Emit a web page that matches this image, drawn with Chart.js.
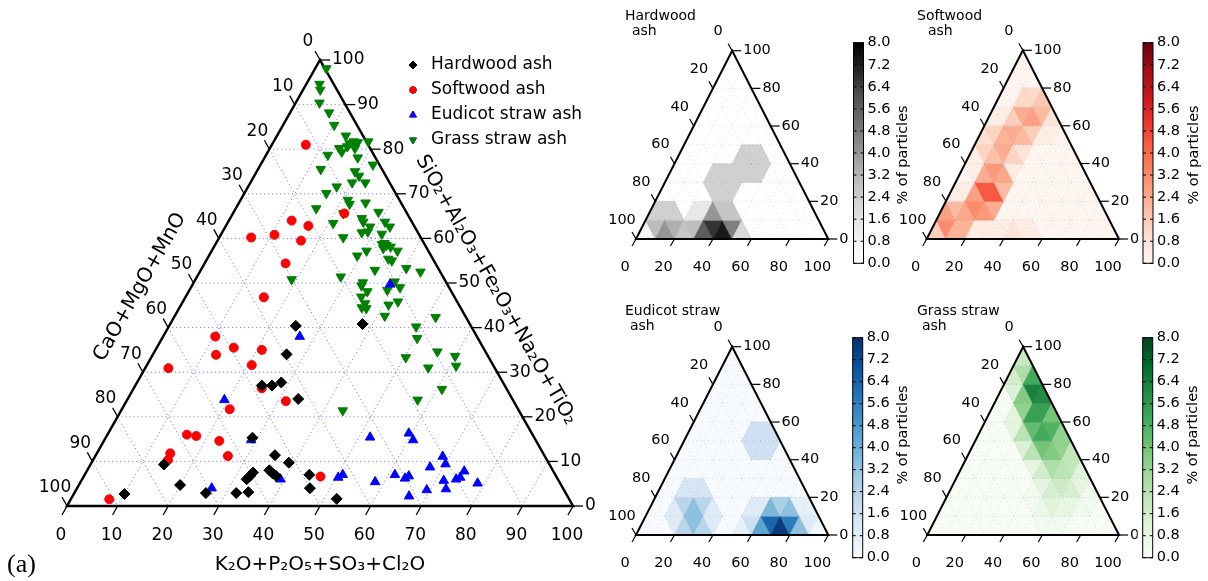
<!DOCTYPE html>
<html>
<head>
<meta charset="utf-8">
<title>Ash composition ternary diagrams</title>
<script src="https://cdn.jsdelivr.net/npm/chart.js@4.4.1/dist/chart.umd.min.js"></script>
<style>
  html, body { margin: 0; padding: 0; background: #fff; }
  #wrap { position: relative; width: 1208px; height: 581px; overflow: hidden; background: #fff; }
  #wrap canvas { position: absolute; }
</style>
</head>
<body>
<div id="wrap">
  <canvas id="main" width="600" height="581" style="left:0;top:0"></canvas>
  <canvas id="hw" width="320" height="292" style="left:600px;top:0"></canvas>
  <canvas id="sw" width="318" height="292" style="left:890px;top:0"></canvas>
  <canvas id="eu" width="320" height="289" style="left:600px;top:292px"></canvas>
  <canvas id="gr" width="318" height="289" style="left:890px;top:292px"></canvas>
</div>
<script>
/* -------------------- DATA -------------------- */
// K = K2O+P2O5+SO3+Cl2O (bottom axis), S = SiO2+Al2O3+Fe2O3+Na2O+TiO2 (right axis)
// CaO+MgO+MnO is the rest (100 - K - S)
const hardwoodK = [25, 38, 26.4, 25, 27, 28.5, 33.7, 29, 35.4, 39, 14.5, 33, 32.8, 32.5, 36, 37, 38, 20, 10, 26, 32, 34.3, 44.4, 46, 52.5];
const hardwoodS = [40.4, 40.8, 34, 27, 27, 27.7, 24, 15.3, 11.4, 9.7, 9.3, 7.5, 6.7, 6, 8, 7.3, 6.7, 4.7, 2.7, 2.9, 2.9, 3.1, 7, 4, 1.6];

const softwoodK = [6.7, 22, 12.4, 16.3, 6.3, 10.6, 16.5, 16, 15.5, 10.3, 12.5, 15.2, 21, 20.7, 4.6, 25.3, 31.5, 21.3, 15.7, 17.7, 22.8, 14.5, 14.8, 26.2, 7.6, 46.8];
const softwoodS = [81, 65.6, 64, 62.8, 60.2, 60.8, 59.5, 54.4, 46.8, 38, 33.9, 35.5, 35, 31.6, 30.9, 26.4, 23.5, 21.7, 16, 15.7, 14.6, 11.8, 10.3, 11.2, 1.5, 6.6];

const eudicotK = [39, 27, 19.2, 29, 26.6, 39.2, 50.4, 51, 52.2, 58.2, 61.3, 63.7, 64.2, 59.4, 61, 66.5, 69.3, 67.4, 68.7, 70.1, 71.6, 73, 73.9, 74.5, 74.6, 78.6];
const eudicotS = [49.7, 38, 23.8, 14.8, 4, 6, 6.4, 7, 15.4, 5.4, 7, 6.2, 6.7, 16.3, 14.8, 2.2, 3.6, 8.7, 11.1, 9.4, 5.7, 3.8, 6, 6.4, 7.8, 5.1];

const grassK = [2.2, 2.6, 3.4, 4.7, 7.7, 10.1, 13.6, 15.2, 15.8, 16.7, 15.1, 16.8, 13.7, 14.6, 18.7, 12.2, 18.4, 12.4, 19.4, 20.7,
  22.2, 22.7, 20.1, 17.5, 16.2, 21.2, 22, 25, 15.9, 28.6, 21.8, 26, 26.7, 31, 32.5, 20.9, 28.6, 28.7, 27.6, 31.7,
  24.5, 32.9, 33.3, 33.9, 34.9, 33.6, 36.7, 30.6, 29.3, 35.8, 36.7, 40.4, 34.4, 43.6, 28.4, 19, 33.4, 33.5, 39.6, 41.3,
  35.3, 34.7, 39.1, 42.5, 36.2, 36, 37, 41, 41.5, 51.7, 48.9, 50.4, 55.9, 50.3, 55.9, 59.9, 61.2, 43.8, 57.4, 61];
const grassS = [98.1, 94.6, 93.3, 90.4, 88.2, 85.4, 83, 81.3, 81.7, 81.5, 80.6, 80.2, 80.2, 79.4, 81.7, 78.7, 78.1, 75.5, 75, 74,
  76.5, 72.5, 72.5, 71.6, 70.1, 68.6, 67.7, 68, 66.7, 65.9, 65.6, 64.5, 63.7, 63.7, 62.6, 63.4, 62.6, 61.5, 61.3, 61,
  60.2, 58.7, 58.9, 58.5, 58.1, 57.8, 57.2, 57.2, 56.1, 55.4, 55, 53.3, 52.9, 52.5, 51.4, 50.8, 50.1, 49.4, 50.3, 49,
  48.1, 46.9, 48.4, 45.8, 45.4, 44.5, 44.3, 45.1, 42.6, 42.3, 40.2, 37.6, 34.6, 33.3, 31, 33.6, 31.4, 21.4, 23.8, 26.2];

const seriesNames = ['Hardwood ash', 'Softwood ash', 'Eudicot straw ash', 'Grass straw ash'];
const mainTicks = [0, 10, 20, 30, 40, 50, 60, 70, 80, 90, 100];
const heatTicks = [0, 20, 40, 60, 80, 100];
const colorbarTicks = [0.0, 0.8, 1.6, 2.4, 3.2, 4.0, 4.8, 5.6, 6.4, 7.2, 8.0];

// heatmaps: % of particles at grid points [K, S, value], grid step 10
const hardwoodHeat = [[10, 10, 7], [30, 30, 7], [40, 40, 7], [10, 0, 2], [20, 0, 3], [30, 0, 5], [40, 0, 8],
  [50, 0, 6], [30, 10, 4], [40, 10, 8]];
const softwoodHeat = [[0, 10, 3], [10, 0, 1.5], [10, 10, 5], [20, 10, 1.5], [10, 20, 1], [20, 20, 7], [20, 30, 6],
  [10, 40, 1], [20, 40, 1.5], [10, 50, 3], [20, 50, 2.5], [10, 60, 1], [20, 60, 3.5], [30, 60, 1], [20, 70, 3.5],
  [30, 70, 1.5], [40, 0, 1.2], [50, 0, 1.2]];
const eudicotHeat = [[40, 50, 5], [20, 20, 4], [20, 10, 3], [30, 10, 3], [30, 0, 4], [60, 0, 2], [70, 0, 8],
  [80, 0, 7], [70, 10, 8], [60, 10, 3], [80, 10, 2], [90, 0, 1]];
const grassHeat = [[0, 100, 2], [0, 90, 1], [10, 90, 3], [10, 80, 4], [20, 80, 8], [20, 70, 7], [30, 70, 3],
  [30, 60, 6], [20, 60, 3], [40, 60, 3], [30, 50, 4], [40, 50, 5], [50, 50, 2], [40, 40, 3], [50, 40, 3],
  [60, 40, 1.5], [50, 30, 2], [60, 30, 2], [50, 20, 1], [60, 20, 1.5], [70, 20, 1], [60, 10, 1]];

/* -------------------- HELPERS -------------------- */
const FONT = '"DejaVu Sans", "Liberation Sans", sans-serif';

const GREYS = ['#ffffff', '#f0f0f0', '#d9d9d9', '#bdbdbd', '#969696', '#737373', '#525252', '#252525', '#000000'];
const REDS = ['#fff5f0', '#fee0d2', '#fcbba1', '#fc9272', '#fb6a4a', '#ef3b2c', '#cb181d', '#a50f15', '#67000d'];
const BLUES = ['#f7fbff', '#deebf7', '#c6dbef', '#9ecae1', '#6baed6', '#4292c6', '#2171b5', '#08519c', '#08306b'];
const GREENS = ['#f7fcf5', '#e5f5e0', '#c7e9c0', '#a1d99b', '#74c476', '#41ab5d', '#238b45', '#006d2c', '#00441b'];

function tern(k, s) {
    return { x: k + s / 2, y: s };
}

function hexToRgb(h) {
    const n = parseInt(h.slice(1), 16);
    return [(n >> 16) & 255, (n >> 8) & 255, n & 255];
}

function cmap(list, v, vmax) {
    const t = Math.max(0, Math.min(1, v / vmax)) * (list.length - 1);
    const i = Math.min(Math.floor(t), list.length - 2);
    const f = t - i;
    const a = hexToRgb(list[i]), b = hexToRgb(list[i + 1]);
    const c = a.map((va, n) => Math.round(va + (b[n] - va) * f));
    return `rgb(${c[0]},${c[1]},${c[2]})`;
}

function strokeLine(ctx, p, q) {
    ctx.beginPath();
    ctx.moveTo(p[0], p[1]);
    ctx.lineTo(q[0], q[1]);
    ctx.stroke();
}

function text(ctx, str, x, y, size, align, rot) {
    ctx.save();
    ctx.translate(x, y);
    if (rot) ctx.rotate(rot);
    ctx.font = `${size}px ${FONT}`;
    ctx.fillStyle = '#000';
    ctx.textAlign = align || 'center';
    ctx.textBaseline = 'middle';
    ctx.fillText(str, 0, 0);
    ctx.restore();
}

function baseOptions(pad) {
    return {
        responsive: false,
        animation: false,
        devicePixelRatio: 1,
        events: [],
        layout: { padding: pad },
        plugins: { legend: { display: false }, tooltip: { enabled: false } },
        scales: {
            x: { type: 'linear', min: 0, max: 100, display: false },
            y: { type: 'linear', min: 0, max: 100, display: false }
        }
    };
}

/* -------------------- MAIN TERNARY -------------------- */
const series = [
    { K: hardwoodK, S: hardwoodS, color: '#000000', style: 'rectRot', radius: 5.5, rot: 0 },
    { K: softwoodK, S: softwoodS, color: '#ff0000', style: 'circle', radius: 4.5, rot: 0 },
    { K: eudicotK, S: eudicotS, color: '#0000ff', style: 'triangle', radius: 5.5, rot: 0 },
    { K: grassK, S: grassS, color: '#008000', style: 'triangle', radius: 5.5, rot: 180 }
];

const mainFrame = {
    id: 'mainFrame',
    beforeDatasetsDraw(chart) {
        const { ctx, scales: { x, y } } = chart;
        const P = (k, s) => [x.getPixelForValue(k + s / 2), y.getPixelForValue(s)];
        ctx.save();

        // dotted grid
        ctx.strokeStyle = 'rgba(60,60,225,0.75)';
        ctx.lineWidth = 1;
        ctx.setLineDash([1, 3]);
        for (let v = 10; v < 100; v += 10) {
            strokeLine(ctx, P(0, v), P(100 - v, v));
            strokeLine(ctx, P(v, 0), P(v, 100 - v));
            strokeLine(ctx, P(0, 100 - v), P(100 - v, 0));
        }
        ctx.setLineDash([]);

        // triangle
        ctx.strokeStyle = '#000';
        ctx.lineWidth = 2.5;
        ctx.lineJoin = 'miter';
        ctx.beginPath();
        ctx.moveTo(...P(0, 0));
        ctx.lineTo(...P(100, 0));
        ctx.lineTo(...P(0, 100));
        ctx.closePath();
        ctx.stroke();

        // ticks + labels
        ctx.lineWidth = 1.3;
        mainTicks.forEach(v => {
            const b = P(v, 0);
            strokeLine(ctx, b, [b[0] - 5, b[1] + 9]);
            text(ctx, String(v), b[0] - 6, b[1] + 30, 17);

            const l = P(0, 100 - v);
            strokeLine(ctx, l, [l[0] - 5, l[1] - 9]);
            text(ctx, String(v), l[0] - 12, l[1] - 18, 17);

            const r = P(100 - v, v);
            strokeLine(ctx, r, [r[0] + 10, r[1]]);
            text(ctx, String(v), r[0] + 12, r[1], 17, 'left');
        });

        // axis titles
        const ang = Math.atan2(y.getPixelForValue(0) - y.getPixelForValue(100), x.getPixelForValue(100) - x.getPixelForValue(50));
        text(ctx, 'K\u2082O+P\u2082O\u2085+SO\u2083+Cl\u2082O', (P(0, 0)[0] + P(100, 0)[0]) / 2, 565, 20);
        text(ctx, 'CaO+MgO+MnO', 140, 287, 20, 'center', -ang);
        text(ctx, 'SiO\u2082+Al\u2082O\u2083+Fe\u2082O\u2083+Na\u2082O+TiO\u2082', 496, 290, 20, 'center', ang);

        ctx.font = '26px "Liberation Serif", "DejaVu Serif", serif';
        ctx.fillStyle = '#000';
        ctx.textAlign = 'left';
        ctx.textBaseline = 'middle';
        ctx.fillText('(a)', 7, 565);
        ctx.restore();
    },
    afterDatasetsDraw(chart) {
        const { ctx } = chart;
        ctx.save();
        chart.data.datasets.forEach((ds, i) => {
            const yy = 65 + i * 25;
            Chart.helpers.drawPoint(ctx, {
                pointStyle: ds.pointStyle,
                radius: ds.pointRadius * 0.72,
                rotation: ds.pointRotation,
                borderWidth: 1
            }, 413, yy);
            ctx.fillStyle = ds.backgroundColor;
            ctx.strokeStyle = ds.borderColor;
            ctx.fill();
            ctx.stroke();
            text(ctx, ds.label, 431, yy, 17, 'left');
        });
        ctx.restore();
    }
};

new Chart(document.getElementById('main'), {
    type: 'scatter',
    data: {
        datasets: series.map((s, i) => ({
            label: seriesNames[i],
            data: s.K.map((k, n) => tern(k, s.S[n])),
            pointStyle: s.style,
            pointRadius: s.radius,
            pointRotation: s.rot,
            backgroundColor: s.color,
            borderColor: s.color,
            borderWidth: 1,
            clip: false
        }))
    },
    options: baseOptions({ left: 67, right: 27, top: 60, bottom: 75 }),
    plugins: [mainFrame]
});

/* -------------------- HEATMAP PANELS -------------------- */
const panels = [
    { id: 'hw', heat: hardwoodHeat, colors: GREYS, org: [600, 0], bl: [636, 239], br: 828.3, apex: 50.7,
      cb: [853.5, 42.7, 10, 220.6], cbLabel: [903, 155], titles: [['Hardwood', 625, 16.7], ['ash', 632, 31.7]] },
    { id: 'sw', heat: softwoodHeat, colors: REDS, org: [890, 0], bl: [926.7, 239], br: 1119, apex: 50.3,
      cb: [1143, 42.7, 10, 220.6], cbLabel: [1194, 155], titles: [['Softwood', 917, 16.7], ['ash', 928, 31.7]] },
    { id: 'eu', heat: eudicotHeat, colors: BLUES, org: [600, 292], bl: [636, 535], br: 828.3, apex: 346.7,
      cb: [852.7, 337.7, 10, 220], cbLabel: [903, 435], titles: [['Eudicot straw', 625, 311.7], ['ash', 630, 326.7]] },
    { id: 'gr', heat: grassHeat, colors: GREENS, org: [890, 292], bl: [927.3, 535], br: 1119, apex: 346.7,
      cb: [1142.7, 337.7, 10, 220], cbLabel: [1193, 435], titles: [['Grass straw', 917, 311.7], ['ash', 922, 326.7]] }
];

function heatFrame(p) {
    const ox = p.org[0], oy = p.org[1];
    const vmax = colorbarTicks[colorbarTicks.length - 1];
    return {
        id: 'heat_' + p.id,
        beforeDatasetsDraw(chart) {
            const { ctx, scales: { x, y } } = chart;
            const P = (k, s) => [x.getPixelForValue(k + s / 2), y.getPixelForValue(s)];
            const grid = {};
            p.heat.forEach(([k, s, v]) => { grid[(k / 10) + ',' + (s / 10)] = v; });
            const val = (a, b) => grid[a + ',' + b] || 0;
            ctx.save();

            // background = colormap minimum
            ctx.fillStyle = cmap(p.colors, 0, vmax);
            ctx.beginPath();
            ctx.moveTo(...P(0, 0)); ctx.lineTo(...P(100, 0)); ctx.lineTo(...P(0, 100));
            ctx.closePath();
            ctx.fill();

            // triangle cells, coloured by the mean of their three grid points
            const cell = (pts) => {
                const v = pts.reduce((acc, q) => acc + val(q[0], q[1]), 0) / 3;
                if (v <= 0) return;
                const c = cmap(p.colors, v, vmax);
                ctx.fillStyle = c;
                ctx.strokeStyle = c;
                ctx.lineWidth = 0.6;
                ctx.beginPath();
                pts.forEach((q, n) => {
                    const xy = P(q[0] * 10, q[1] * 10);
                    if (n === 0) ctx.moveTo(xy[0], xy[1]); else ctx.lineTo(xy[0], xy[1]);
                });
                ctx.closePath();
                ctx.fill();
                ctx.stroke();
            };
            for (let i = 0; i < 10; i++) {
                for (let j = 0; i + j < 10; j++) {
                    cell([[i, j], [i + 1, j], [i, j + 1]]);
                    if (i + j < 9) cell([[i + 1, j], [i, j + 1], [i + 1, j + 1]]);
                }
            }

            // faint dotted grid
            ctx.strokeStyle = 'rgba(90,90,140,0.22)';
            ctx.lineWidth = 1;
            ctx.setLineDash([1, 3]);
            for (let v = 10; v < 100; v += 10) {
                strokeLine(ctx, P(0, v), P(100 - v, v));
                strokeLine(ctx, P(v, 0), P(v, 100 - v));
                strokeLine(ctx, P(0, 100 - v), P(100 - v, 0));
            }
            ctx.setLineDash([]);

            // outline
            ctx.strokeStyle = '#000';
            ctx.lineWidth = 2;
            ctx.beginPath();
            ctx.moveTo(...P(0, 0)); ctx.lineTo(...P(100, 0)); ctx.lineTo(...P(0, 100));
            ctx.closePath();
            ctx.stroke();

            // ticks and labels
            ctx.lineWidth = 1.2;
            heatTicks.forEach(v => {
                const b = P(v, 0);
                strokeLine(ctx, b, [b[0] - 4, b[1] + 7]);
                text(ctx, String(v), b[0] - 11, b[1] + 28, 14.5);
                const l = P(0, 100 - v);
                strokeLine(ctx, l, [l[0] - 4, l[1] - 7]);
                text(ctx, String(v), l[0] - 14, l[1] - 19, 14.5);
                const r = P(100 - v, v);
                strokeLine(ctx, r, [r[0] + 9, r[1]]);
                text(ctx, String(v), r[0] + 11, r[1], 14.5, 'left');
            });

            // titles
            p.titles.forEach(([t, tx, ty]) => text(ctx, t, tx - ox, ty - oy, 14, 'left'));

            // colorbar
            const [cx, cy, cw, ch] = [p.cb[0] - ox, p.cb[1] - oy, p.cb[2], p.cb[3]];
            ctx.fillStyle = '#fff';
            ctx.fillRect(cx - 5, cy + ch - 40, 5, 40);
            const g = ctx.createLinearGradient(0, cy + ch, 0, cy);
            p.colors.forEach((c, n) => g.addColorStop(n / (p.colors.length - 1), c));
            ctx.fillStyle = g;
            ctx.fillRect(cx, cy, cw, ch);
            ctx.strokeStyle = '#000';
            ctx.lineWidth = 1;
            ctx.strokeRect(cx, cy, cw, ch);
            colorbarTicks.forEach(t => {
                const ty = cy + ch - (t / vmax) * ch;
                strokeLine(ctx, [cx + cw - 3, ty], [cx + cw, ty]);
                strokeLine(ctx, [cx, ty], [cx + 3, ty]);
                text(ctx, t.toFixed(1), cx + cw + 4, ty, 14.5, 'left');
            });
            text(ctx, '% of particles', p.cbLabel[0] - ox, p.cbLabel[1] - oy, 14.5, 'center', -Math.PI / 2);
            ctx.restore();
        }
    };
}

panels.forEach(p => {
    const c = document.getElementById(p.id);
    const pad = {
        left: p.bl[0] - p.org[0],
        right: c.width - (p.br - p.org[0]),
        top: p.apex - p.org[1],
        bottom: c.height - (p.bl[1] - p.org[1])
    };
    new Chart(c, {
        type: 'scatter',
        data: { datasets: [{ data: [], pointRadius: 0 }] },
        options: baseOptions(pad),
        plugins: [heatFrame(p)]
    });
});
</script>
</body>
</html>
